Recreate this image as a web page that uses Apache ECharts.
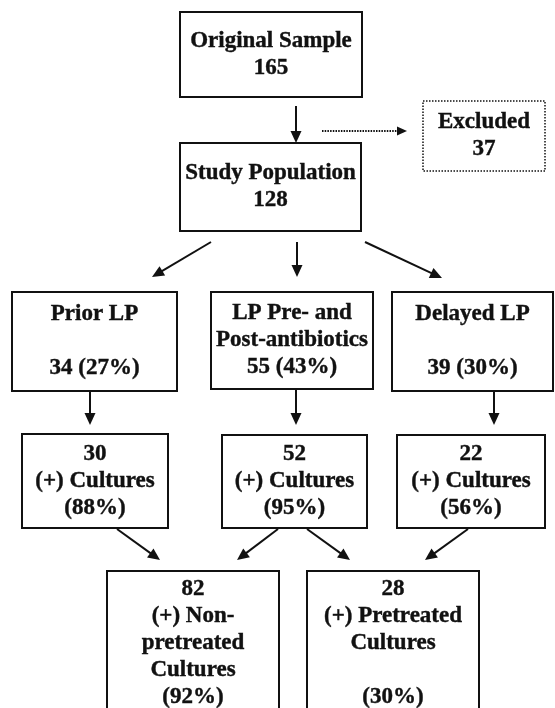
<!DOCTYPE html>
<html>
<head>
<meta charset="utf-8">
<script src="https://cdn.jsdelivr.net/npm/echarts@6/dist/echarts.min.js"></script>
<style>
html,body{margin:0;padding:0;background:#fff;}
#chart{width:555px;height:708px;}
</style>
</head>
<body>
<div id="chart"></div>
<script>
// ---- data ----
const stageLabels = ['Original Sample', 'Study Population', 'Excluded'];
const stageCounts = [165, 128, 37];
const groupLabels = ['Prior LP', 'LP Pre- and\nPost-antibiotics', 'Delayed LP'];
const groupCounts = [34, 55, 39];
const groupPercents = [27, 43, 30];
const cultureLabel = '(+) Cultures';
const cultureCounts = [30, 52, 22];
const culturePercents = [88, 95, 56];
const outcomeLabels = ['(+) Non-\npretreated\nCultures', '(+) Pretreated\nCultures'];
const outcomeCounts = [82, 28];
const outcomePercents = [92, 30];

// ---- layout (page pixels) ----
const boxLayout = [
  [180, 12, 362, 97, 0],    // original
  [180, 143, 361, 231, 0],  // study population
  [423, 101, 545, 171, 1],  // excluded (dotted)
  [12, 292, 177, 391, 0],   // prior LP
  [211, 292, 373, 389, 0],  // pre & post
  [392, 292, 553, 391, 0],  // delayed
  [22, 434, 168, 528, 0],   // cultures 1
  [222, 435, 367, 528, 0],  // cultures 2
  [397, 435, 545, 528, 0],  // cultures 3
  [107, 571, 279, 716, 0],  // non-pretreated
  [307, 571, 479, 716, 0]   // pretreated
];
const arrowLayout = [
  [296, 106, 296, 143, 0],
  [322, 131, 407, 131, 1],
  [211, 242, 152, 277, 0],
  [297, 242, 297, 277, 0],
  [365, 242, 442, 278, 0],
  [90, 392, 90, 425, 0],
  [296, 390, 296, 425, 0],
  [494, 392, 494, 425, 0],
  [117, 529, 160, 560, 0],
  [278, 529, 237, 560, 0],
  [307, 529, 350, 560, 0],
  [468, 529, 425, 560, 0]
];

// ---- texts built from data ----
const texts = [];
texts.push(stageLabels[0] + '\n' + stageCounts[0]);
texts.push(stageLabels[1] + '\n' + stageCounts[1]);
texts.push(stageLabels[2] + '\n' + stageCounts[2]);
groupLabels.forEach((l, i) => {
  const pad = l.indexOf('\n') >= 0 ? '\n' : '\n\n';
  texts.push(l + pad + groupCounts[i] + ' (' + groupPercents[i] + '%)');
});
cultureCounts.forEach((c, i) => {
  texts.push(c + '\n' + cultureLabel + '\n(' + culturePercents[i] + '%)');
});
outcomeLabels.forEach((l, i) => {
  const n = l.split('\n').length;
  const pad = n < 3 ? '\n\n' : '\n';
  texts.push(outcomeCounts[i] + '\n' + l + pad + '(' + outcomePercents[i] + '%)');
});

const FONT = 'bold 23px "Liberation Serif", "Times New Roman", serif';

const chart = echarts.init(document.getElementById('chart'), null, {renderer: 'canvas'});
chart.setOption({
  backgroundColor: '#fff',
  animation: false,
  grid: {left: 0, right: 0, top: 0, bottom: 0},
  xAxis: {type: 'value', min: 0, max: 555, show: false},
  yAxis: {type: 'value', min: 0, max: 708, inverse: true, show: false},
  series: [
    {
      type: 'custom',
      clip: false,
      encode: {x: [0, 2], y: [1, 3]},
      data: boxLayout.map((b, i) => b.concat([i])),
      renderItem: function (params, api) {
        const p0 = api.coord([api.value(0), api.value(1)]);
        const p1 = api.coord([api.value(2), api.value(3)]);
        const dotted = api.value(4) === 1;
        const idx = api.value(5);
        return {
          type: 'group',
          children: [
            {
              type: 'rect',
              shape: {x: p0[0], y: p0[1], width: p1[0] - p0[0], height: p1[1] - p0[1]},
              style: {
                fill: '#fff',
                stroke: '#111',
                lineWidth: dotted ? 1.5 : 2,
                lineDash: dotted ? [1.5, 1.5] : null
              }
            },
            {
              type: 'text',
              style: {
                text: texts[idx],
                x: (p0[0] + p1[0]) / 2,
                y: (p0[1] + Math.min(p1[1], 716)) / 2,
                align: 'center',
                verticalAlign: 'middle',
                font: FONT,
                lineHeight: 27,
                fill: '#111',
                stroke: '#111',
                lineWidth: 0.4
              }
            }
          ]
        };
      }
    },
    {
      type: 'custom',
      clip: false,
      encode: {x: [0, 2], y: [1, 3]},
      data: arrowLayout,
      renderItem: function (params, api) {
        const s = api.coord([api.value(0), api.value(1)]);
        const t = api.coord([api.value(2), api.value(3)]);
        const dotted = api.value(4) === 1;
        const dx = t[0] - s[0], dy = t[1] - s[1];
        const len = Math.sqrt(dx * dx + dy * dy);
        const ux = dx / len, uy = dy / len;
        const L = dotted ? 10 : 12, W = dotted ? 9 : 11;
        const bx = t[0] - ux * L, by = t[1] - uy * L;
        const px = -uy * W / 2, py = ux * W / 2;
        return {
          type: 'group',
          children: [
            {
              type: 'line',
              shape: {x1: s[0], y1: s[1], x2: bx + ux * 1, y2: by + uy * 1},
              style: {stroke: '#111', lineWidth: 2, lineDash: dotted ? [1.5, 1.2] : null}
            },
            {
              type: 'polygon',
              shape: {points: [[t[0], t[1]], [bx + px, by + py], [bx - px, by - py]]},
              style: {fill: '#111'}
            }
          ]
        };
      }
    }
  ]
});
</script>
</body>
</html>
